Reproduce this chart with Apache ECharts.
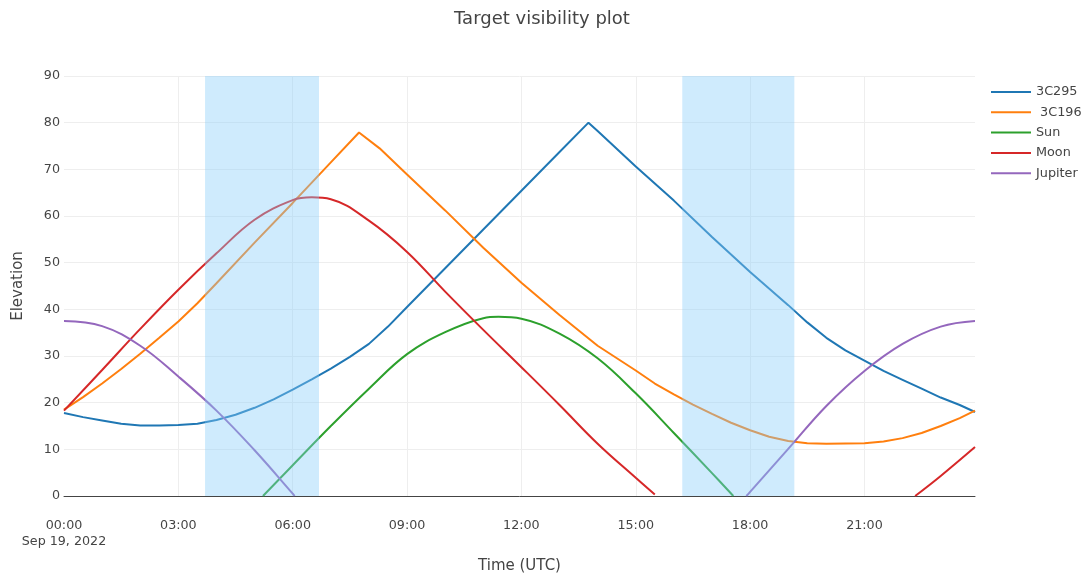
<!DOCTYPE html>
<html>
<head>
<meta charset="utf-8">
<script src="https://cdn.jsdelivr.net/npm/echarts@6/dist/echarts.min.js"></script>
<style>
  html, body { margin: 0; padding: 0; background: #fff; }
  #chart { width: 1084px; height: 579px; }
</style>
</head>
<body>
<div id="chart"></div>
<script>
// hours since 00:00 UTC, Sep 19, 2022 ; elevation in degrees
const seriesNames = ['3C295', ' 3C196', 'Sun', 'Moon', 'Jupiter'];
const seriesColors = ['#1f77b4', '#ff7f0e', '#2ca02c', '#d62728', '#9467bd'];

const hours3C295 = [0, 0.5, 1, 1.5, 2, 2.5, 3, 3.5, 4, 4.5, 5, 5.5, 6, 6.5, 7, 7.5, 8, 8.5, 9, 10, 11, 12, 13, 13.76,
    14, 15, 16, 17, 18, 19, 19.5, 20, 20.5, 21, 21.5, 22, 22.5, 23, 23.5, 23.9];
const elev3C295 = [17.8, 16.9, 16.2, 15.5, 15.1, 15.1, 15.2, 15.5, 16.3, 17.4, 18.9, 20.7, 22.8, 25.0, 27.3, 29.8, 32.6, 36.3, 40.5, 48.8, 57.1, 65.4, 73.7, 80.0,
    78.2, 70.6, 63.3, 55.5, 48.0, 40.9, 37.2, 33.9, 31.2, 29.0, 26.8, 24.9, 23.0, 21.1, 19.5, 18.0];

const hours3C196 = [0, 0.5, 1, 1.5, 2, 2.5, 3, 3.5, 4, 5, 6, 7, 7.74, 8.28, 9, 10, 11, 12, 13, 14, 15, 15.5, 16, 16.5, 17, 17.5, 18, 18.5, 19, 19.5, 20, 21, 21.5, 22, 22.5, 23, 23.5, 23.9];
const elev3C196 = [18.5, 21.2, 24.1, 27.2, 30.5, 33.9, 37.4, 41.3, 45.6, 54.3, 62.8, 71.5, 77.9, 74.5, 68.9, 61.2, 53.2, 45.7, 38.8, 32.2, 26.9, 24.1, 21.8, 19.6, 17.6, 15.7, 14.1, 12.7, 11.8, 11.3, 11.2, 11.3, 11.7, 12.4, 13.5, 15.0, 16.7, 18.3];

const hoursSun = [5.22, 6, 7, 8, 9, 10, 11, 11.4, 12, 13, 14, 15, 16, 17, 17.56];
const elevSun = [0, 6.6, 15.0, 23.0, 30.4, 35.1, 38.1, 38.4, 38.0, 34.8, 29.5, 22.0, 13.5, 4.9, 0];

const hoursMoon = [0, 1, 2, 3, 4, 5, 6, 6.5, 7, 8, 9, 10, 11, 12, 13, 14, 15, 15.5, 19, 22.33, 23, 23.9];
const elevMoon = [18.3, 27.0, 35.8, 44.2, 52.0, 59.2, 63.4, 64.0, 63.6, 59.0, 52.3, 43.8, 35.6, 27.6, 19.5, 11.2, 3.9, 0.3, null, 0, 4.3, 10.5];

const hoursJupiter = [0, 1, 2, 3, 4, 5, 6, 6.05, 12, 17.9, 18, 19, 20, 21, 22, 23, 23.9];
const elevJupiter = [37.5, 36.4, 32.2, 25.6, 18.3, 9.8, 0.5, 0, null, 0, 0.9, 10.1, 19.3, 26.8, 32.6, 36.3, 37.5];

// shaded windows [start, end] in hours
const windows = [[3.70, 6.69], [16.22, 19.16]];

const xTickLabels = ['00:00\nSep 19, 2022', '03:00', '06:00', '09:00', '12:00', '15:00', '18:00', '21:00'];

const allHours = [hours3C295, hours3C196, hoursSun, hoursMoon, hoursJupiter];
const allElev = [elev3C295, elev3C196, elevSun, elevMoon, elevJupiter];

const fontFamily = 'DejaVu Sans';

var chart = echarts.init(document.getElementById('chart'));

var lineSeries = seriesNames.map(function (name, i) {
    return {
        name: name,
        type: 'line',
        showSymbol: false,
        symbol: 'none',
        smooth: (i < 2) ? false : 0.4,
        connectNulls: false,
        z: 2,
        lineStyle: { width: 2, color: seriesColors[i] },
        itemStyle: { color: seriesColors[i] },
        emphasis: { disabled: true },
        data: allHours[i].map(function (h, k) {
            return [h, allElev[i][k] === null ? '-' : allElev[i][k]];
        })
    };
});

// shading goes above the traces
lineSeries.push({
    name: 'shade',
    type: 'line',
    data: [],
    z: 5,
    silent: true,
    markArea: {
        z: 10,
        silent: true,
        itemStyle: { color: 'rgba(135,206,250,0.4)' },
        emphasis: { disabled: true },
        data: windows.map(function (w) {
            return [{ xAxis: w[0] }, { xAxis: w[1] }];
        })
    }
});

var option = {
    animation: false,
    backgroundColor: '#fff',
    title: {
        text: 'Target visibility plot',
        left: 'center',
        top: 5,
        textStyle: { fontFamily: fontFamily, fontSize: 18, fontWeight: 'normal', color: '#444' }
    },
    legend: {
        orient: 'vertical',
        left: 986,
        top: 80,
        itemWidth: 40,
        itemHeight: 2,
        itemGap: 6.3,
        icon: 'rect',
        data: seriesNames,
        textStyle: { fontFamily: fontFamily, fontSize: 12.8, color: '#444', lineHeight: 14 }
    },
    grid: {
        left: 64,
        right: 109,
        top: 76,
        bottom: 83
    },
    xAxis: {
        type: 'value',
        min: 0,
        max: 23.9,
        interval: 3,
        name: 'Time (UTC)',
        nameLocation: 'middle',
        nameGap: 63,
        nameTextStyle: { fontFamily: fontFamily, fontSize: 15, color: '#444' },
        axisLine: { show: true, onZero: false, lineStyle: { color: '#444', width: 1 } },
        axisTick: { show: false },
        axisLabel: {
            fontFamily: fontFamily,
            fontSize: 12.7,
            color: '#444',
            margin: 22,
            lineHeight: 16,
            showMaxLabel: false,
            formatter: function (v) {
                var idx = Math.round(v / 3);
                return xTickLabels[idx] || '';
            }
        },
        splitLine: { show: true, showMinLine: false, showMaxLine: false, lineStyle: { color: '#eeeeee', width: 1 } }
    },
    yAxis: {
        type: 'value',
        min: 0,
        max: 90,
        interval: 10,
        name: 'Elevation',
        nameLocation: 'middle',
        nameGap: 38,
        nameTextStyle: { fontFamily: fontFamily, fontSize: 15, color: '#444' },
        axisLine: { show: false },
        axisTick: { show: false },
        axisLabel: { fontFamily: fontFamily, fontSize: 12.7, color: '#444', margin: 4 },
        splitLine: { show: true, lineStyle: { color: '#eeeeee', width: 1 } }
    },
    series: lineSeries
};

chart.setOption(option);
</script>
</body>
</html>
